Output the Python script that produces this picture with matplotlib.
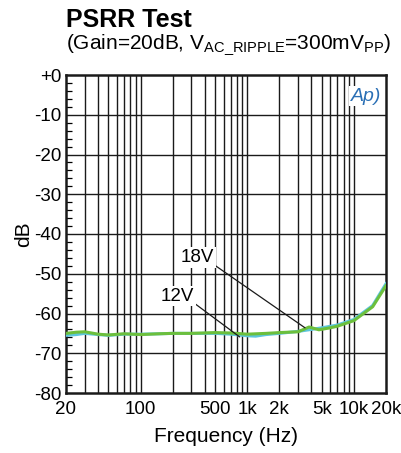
import numpy as np
import matplotlib.pyplot as plt
from matplotlib.ticker import FixedLocator, MultipleLocator

plt.rcParams['font.family'] = ['Liberation Sans', 'DejaVu Sans']

# data
freq_18v = [20, 25, 30, 40, 50, 70, 100, 150, 200, 300, 500, 700, 1000, 1500, 2000, 3000, 3800, 4700, 6000, 7000, 10000, 15000, 20000]
db_18v = [-65.0, -64.7, -64.6, -65.2, -65.4, -65.1, -65.3, -65.1, -65.0, -65.0, -64.8, -64.9, -65.2, -65.0, -64.8, -64.6, -63.4, -64.1, -63.6, -63.2, -61.8, -58.3, -53.0]
freq_12v = [20, 25, 30, 40, 50, 70, 100, 150, 200, 300, 500, 700, 1000, 1200, 1500, 2000, 3000, 4000, 5000, 7000, 10000, 15000, 20000]
db_12v = [-65.5, -65.3, -65.0, -65.3, -65.5, -65.2, -65.2, -65.1, -65.0, -65.0, -65.0, -65.2, -65.6, -65.7, -65.3, -65.0, -64.5, -64.0, -63.6, -62.9, -61.5, -58.0, -52.5]

xticks = [20, 100, 500, 1000, 2000, 5000, 10000, 20000]
xtick_labels = ['20', '100', '500', '1k', '2k', '5k', '10k', '20k']
yticks = list(range(-80, 1, 10))
ytick_labels = ['+0' if v == 0 else str(v) for v in yticks]

fig = plt.figure(figsize=(4.01, 4.53), dpi=100)
ax = fig.add_axes([66/401, 1 - 393/453, 320/401, 318/453])

grid_x = [m * 10**e for e in range(1, 5) for m in range(1, 10)]
grid_x = [g for g in grid_x if 20 < g < 20000]
for g in grid_x:
    ax.axvline(g, color='#1a1a1a', lw=1.0, zorder=1)
for v in yticks[1:-1]:
    ax.axhline(v, color='#1a1a1a', lw=1.0, zorder=1)

ax.plot(freq_12v, db_12v, color='#5cc5dc', lw=2.2, zorder=3)
ax.plot(freq_18v, db_18v, color='#6cbf3c', lw=2.2, zorder=4)

ax.set_xscale('log')
ax.set_xlim(20, 20000)
ax.set_ylim(-80, 0)
ax.xaxis.set_major_locator(FixedLocator(xticks))
ax.xaxis.set_minor_locator(FixedLocator([]))
ax.set_xticklabels(xtick_labels)
ax.set_yticks(yticks)
ax.set_yticklabels(ytick_labels)
ax.yaxis.set_minor_locator(MultipleLocator(2))
ax.tick_params(axis='x', which='both', length=0, labelsize=13.5, pad=6)
ax.tick_params(axis='y', which='major', length=0, labelsize=13.5, pad=3)
ax.tick_params(axis='y', which='minor', direction='in', length=4, width=0.9, left=True, right=False)
for s in ax.spines.values():
    s.set_linewidth(1.8)
    s.set_color('#1a1a1a')

ax.set_xlabel('Frequency (Hz)', fontsize=15, labelpad=6)
ax.set_ylabel('dB', fontsize=15, labelpad=1)

ax.annotate('18V', xy=(3480, -63.6), xytext=(340, -46), fontsize=13.5,
            ha='center', va='center', zorder=6,
            bbox=dict(boxstyle='square,pad=0.1', fc='white', ec='none'),
            arrowprops=dict(arrowstyle='-', color='#1a1a1a', lw=0.9, shrinkA=0, shrinkB=0,
                            relpos=(1.0, 0.1)))
ax.annotate('12V', xy=(850, -65.9), xytext=(220, -55.6), fontsize=13.5,
            ha='center', va='center', zorder=6,
            bbox=dict(boxstyle='square,pad=0.1', fc='white', ec='none'),
            arrowprops=dict(arrowstyle='-', color='#1a1a1a', lw=0.9, shrinkA=0, shrinkB=0,
                            relpos=(1.0, 0.1)))

ax.text(0.985, 0.96, 'Ap)', transform=ax.transAxes, ha='right', va='top',
        fontsize=14, style='italic', color='#2a6fb5', zorder=6,
        bbox=dict(fc='white', ec='none', pad=1))

fig.text(66/401, 1 - 20/453, 'PSRR Test', fontsize=18, fontweight='bold', va='center')
fig.text(66/401, 1 - 45/453, r'(Gain=20dB, V$_{\mathregular{AC\_RIPPLE}}$=300mV$_{\mathregular{PP}}$)',
         fontsize=15, va='center')

fig.savefig('out.png', dpi=100)
